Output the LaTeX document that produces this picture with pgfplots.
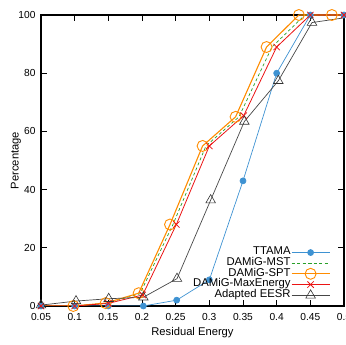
\documentclass[border=0pt]{standalone}
\usepackage{pgfplots}
\pgfplotsset{compat=1.18}
\usepackage{fontspec}
\setmainfont{Liberation Sans}
\definecolor{cblue}{RGB}{62,146,210}
\definecolor{cgreen}{RGB}{40,160,40}
\definecolor{corange}{RGB}{255,140,0}
\definecolor{cred}{RGB}{235,20,20}
\definecolor{cgray}{RGB}{70,70,70}
\begin{document}
\begin{tikzpicture}
\begin{axis}[
  scale only axis,
  width=303pt, height=291pt,
  xmin=0.05, xmax=0.5, ymin=0, ymax=100,
  xtick={0.05,0.1,0.15,0.2,0.25,0.3,0.35,0.4,0.45,0.5},
  xticklabels={0.05,0.1,0.15,0.2,0.25,0.3,0.35,0.4,0.45,0.5},
  ytick={0,20,40,60,80,100},
  tick align=inside,
  major tick length=6pt,
  tick style={black, line width=0.8pt},
  axis line style={black, line width=1.1pt},
  ticklabel style={font=\fontsize{10.2}{12}\selectfont},
  xticklabel style={yshift=-4pt},
  yticklabel style={xshift=-2pt},
  /pgf/number format/assume math mode=true,
  xlabel={Residual Energy},
  ylabel={Percentage},
  label style={font=\fontsize{11.2}{13}\selectfont},
  xlabel style={at={(axis description cs:0.5,-0.093)}, anchor=center},
  ylabel style={at={(axis description cs:-0.0825,0.5)}, anchor=center},
  legend cell align=right,
  legend plot pos=right,
  legend style={draw=none, fill=none, at={(axis description cs:0.955,0.018)}, anchor=south east,
    font=\fontsize{11.3}{13}\selectfont, row sep=0pt, inner sep=0pt,
    nodes={inner sep=0.5pt, text height=7pt, text depth=2.5pt}},
  legend image code/.code={\draw[mark repeat=2,mark phase=2] plot coordinates {(0pt,0pt) (19pt,0pt) (38pt,0pt)};},
]
\addplot[color=cblue, line width=0.7pt, mark=*, mark size=3pt, mark options={solid, fill=cblue}] coordinates {
(0.05,0) (0.1,0) (0.15,0) (0.202,0) (0.2515,2) (0.3,9) (0.35,43) (0.4,80) (0.45,100) (0.5,100)};
\addlegendentry{TTAMA}
\addplot[color=cgreen, line width=0.7pt, dashed, dash pattern=on 3pt off 2.5pt, mark=none] coordinates {
(0.049,0) (0.099,0) (0.148,1) (0.197,4.2) (0.246,28) (0.295,55) (0.344,65) (0.393,89) (0.442,100) (0.5,100)};
\addlegendentry{DAMiG-MST}
\addplot[color=corange, line width=1.1pt, mark=o, mark size=5.5pt, mark options={solid, line width=0.9pt}] coordinates {
(0.048,0) (0.098,0) (0.146,1) (0.195,4.4) (0.2416,28) (0.29,55) (0.339,65) (0.385,89) (0.433,100) (0.482,100) (0.53,100)};
\addlegendentry{DAMiG-SPT}
\addplot[color=cred, line width=0.8pt, mark=x, mark size=4.5pt, mark options={solid, line width=0.8pt}] coordinates {
(0.05,0) (0.1,0) (0.15,0.9) (0.201,3.8) (0.251,28) (0.3,55) (0.351,65.4) (0.4,89) (0.45,100) (0.5,100)};
\addlegendentry{DAMiG-MaxEnergy}
\addplot[color=cgray, line width=0.7pt, mark=triangle, mark size=5.5pt, mark options={solid, draw=black!80, line width=0.6pt}] coordinates {
(0.05,0.3) (0.102,1.7) (0.1505,2.5) (0.202,3) (0.252,9.4) (0.302,36.4) (0.352,63.4) (0.4025,77.4) (0.4525,97.4) (0.5025,99.1)};
\addlegendentry{Adapted EESR}
\end{axis}
\pgfresetboundingbox
\path (-41pt,-39pt) rectangle (305pt,306pt);
\end{tikzpicture}
\end{document}
